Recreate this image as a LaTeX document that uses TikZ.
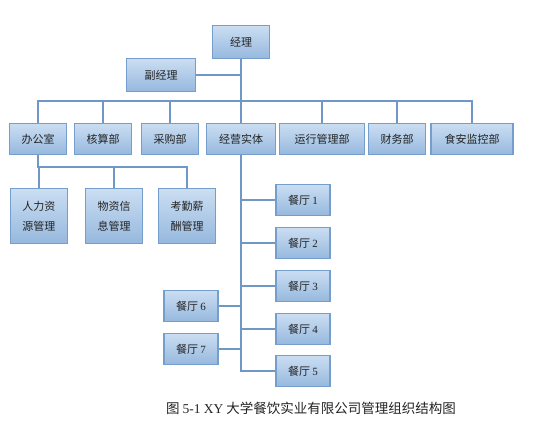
\documentclass[tikz,border=0pt]{standalone}
\usepackage{fontspec}
\setmainfont{Liberation Serif}
\newfontfamily\cjk{Noto Sans CJK SC}
\usepackage{tikz}
\usetikzlibrary{
  positioning,
  calc,
  shadows
}
\definecolor{BoxTop}{RGB}{203,222,242}
\definecolor{BoxBottom}{RGB}{150,184,222}
\definecolor{BoxEdge}{RGB}{118,158,204}
\definecolor{LinkBlue}{RGB}{112,152,198}
\definecolor{TextGray}{RGB}{35,35,35}
\tikzset{
  orgbox/.style={
    draw=BoxEdge,
    line width=1.2pt,
    top color=BoxTop,
    bottom color=BoxBottom,
    minimum height=31pt,
    inner sep=1pt,
    align=center,
    text=TextGray,
    font=\cjk\fontsize{11}{20}\selectfont,
    drop shadow={shadow xshift=0.8pt,shadow yshift=-0.8pt,opacity=0.25}
  },
  subbox/.style={orgbox,minimum width=57pt,minimum height=55pt},
  shopbox/.style={orgbox,minimum width=54pt},
  link/.style={draw=LinkBlue,line width=1.3pt}
}

\begin{document}
\begin{tikzpicture}[x=1pt,y=-1pt]
  \useasboundingbox (0,0) rectangle (552,422);

  % top levels
  \node[orgbox, minimum width=57pt, minimum height=33pt] (manager) at (241,42) {经理};
  \node[orgbox, minimum width=69pt, minimum height=33pt] (vice) at (161,75) {副经理};

  % departments
  \node[orgbox, minimum width=57pt] (office) at (38,139) {办公室};
  \node[orgbox, minimum width=57pt] (account) at (103,139) {核算部};
  \node[orgbox, minimum width=57pt] (purchase) at (170,139) {采购部};
  \node[orgbox, minimum width=69pt] (entity) at (241,139) {经营实体};
  \node[orgbox, minimum width=85pt] (operate) at (322,139) {运行管理部};
  \node[orgbox, minimum width=57pt] (finance) at (397,139) {财务部};
  \node[orgbox, minimum width=82pt] (safety) at (472,139) {食安监控部};

  % office sections
  \node[subbox] (staff) at (39,216) {人力资\\源管理};
  \node[subbox] (material) at (114,216) {物资信\\息管理};
  \node[subbox] (salary) at (187,216) {考勤薪\\酬管理};

  % restaurants
  \node[shopbox] (r1) at (303,200) {餐厅 {\rmfamily 1}};
  \node[shopbox] (r2) at (303,243) {餐厅 {\rmfamily 2}};
  \node[shopbox] (r3) at (303,286) {餐厅 {\rmfamily 3}};
  \node[shopbox] (r4) at (303,329) {餐厅 {\rmfamily 4}};
  \node[shopbox] (r5) at (303,371) {餐厅 {\rmfamily 5}};
  \node[shopbox] (r6) at (191,306) {餐厅 {\rmfamily 6}};
  \node[shopbox] (r7) at (191,349) {餐厅 {\rmfamily 7}};

  \draw[link] (manager.south) -- (entity.north);
  \draw[link] (vice.east) -- (vice.east -| manager.south);
  \draw[link] (office.north) -- ++(0,-22) -| (safety.north);
  \foreach \d in {account,purchase,operate,finance}
    \draw[link] (\d.north) -- ++(0,-22);

  \draw[link] (office.south) -- ++(0,12) -| (salary.north);
  \draw[link] (material.north) -- ++(0,-22);
  \draw[link] (staff.north) -- ++(0,-22);

  \draw[link] (entity.south) |- (r5.west);
  \foreach \r in {r1,r2,r3,r4}
    \draw[link] (\r.west) -- (\r.west -| entity.south);
  \foreach \r in {r6,r7}
    \draw[link] (\r.east) -- (\r.east -| entity.south);

  \node[font=\cjk\fontsize{13.5}{15}\selectfont, text=TextGray] (caption) at (311,408)
    {图 {\rmfamily 5-1 XY} 大学餐饮实业有限公司管理组织结构图};
\end{tikzpicture}
\end{document}
